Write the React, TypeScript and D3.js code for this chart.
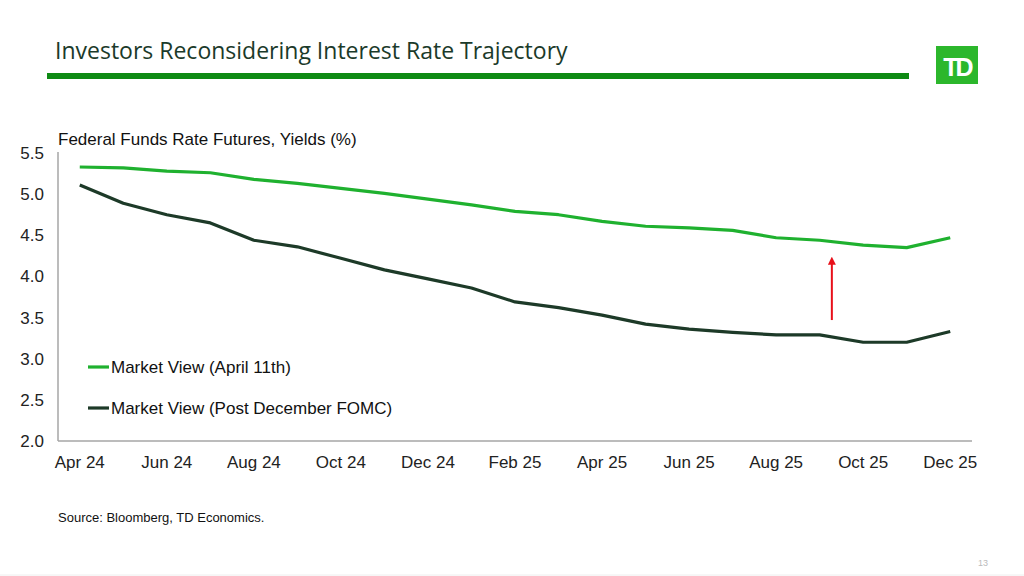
import React from "react";
import * as d3 from "d3";

const months = ["Apr 24","May 24","Jun 24","Jul 24","Aug 24","Sep 24","Oct 24","Nov 24","Dec 24","Jan 25","Feb 25","Mar 25","Apr 25","May 25","Jun 25","Jul 25","Aug 25","Sep 25","Oct 25","Nov 25","Dec 25"];
const aprilView = [5.33,5.32,5.28,5.26,5.18,5.13,5.07,5.01,4.94,4.87,4.79,4.75,4.67,4.61,4.59,4.56,4.47,4.44,4.38,4.35,4.47];
const postFomc = [5.11,4.89,4.75,4.65,4.44,4.36,4.22,4.08,3.97,3.86,3.69,3.62,3.53,3.42,3.36,3.32,3.29,3.29,3.20,3.20,3.33];
const xTickLabels = ["Apr 24","Jun 24","Aug 24","Oct 24","Dec 24","Feb 25","Apr 25","Jun 25","Aug 25","Oct 25","Dec 25"];
const yTicks = [2.0,2.5,3.0,3.5,4.0,4.5,5.0,5.5];
const seriesNames = ["Market View (April 11th)","Market View (Post December FOMC)"];
const arrowX = 17.28; // month index
const arrowFrom = 3.47;
const arrowTo = 4.24;

const GREEN = "#1fb12f";
const DARK = "#1d3a28";

export default function App() {
  const x = d3.scaleLinear().domain([-0.5, months.length - 0.5]).range([58, 972]);
  const y = d3.scaleLinear().domain([2, 5.5]).range([441, 153]);
  const line = d3.line<number>().x((_, i) => x(i)).y((d) => y(d));
  const font = "'Liberation Sans', Arial, sans-serif";
  return (
    <svg width={1024} height={576} style={{ position: "absolute", left: 0, top: 0, background: "#fff" }}>
      <defs>
        <marker id="ah" viewBox="0 0 10 10" refX="5" refY="5" markerWidth="4" markerHeight="4" orient="auto">
          <path d="M0,0 L10,5 L0,10 z" fill="#e8101a" />
        </marker>
      </defs>
      <text x={55} y={59} fontFamily="'Open Sans', sans-serif" fontSize={23} fill="#1b3a2a">Investors Reconsidering Interest Rate Trajectory</text>
      <rect x={47} y={73} width={862} height={6} fill="#0e8a14" />
      <rect x={936} y={46} width={42} height={38} fill="#2cb72c" />
      <text x={957} y={76} textAnchor="middle" fontFamily={font} fontWeight="bold" fontSize={25} fill="#fff" letterSpacing={-3}>TD</text>

      <text x={58} y={145} fontFamily={font} fontSize={17} fill="#111">Federal Funds Rate Futures, Yields (%)</text>

      <line x1={58} x2={58} y1={152} y2={441} stroke="#a6a6a6" strokeWidth={1.5} />
      <line x1={58} x2={972} y1={441} y2={441} stroke="#a6a6a6" strokeWidth={1.5} />
      {yTicks.map((t) => (
        <text key={t} x={44} y={y(t) + 6} textAnchor="end" fontFamily={font} fontSize={17} fill="#222">{t.toFixed(1)}</text>
      ))}
      {xTickLabels.map((l) => (
        <text key={l} x={x(months.indexOf(l))} y={468} textAnchor="middle" fontFamily={font} fontSize={17} fill="#222">{l}</text>
      ))}

      <path d={line(aprilView) || ""} fill="none" stroke={GREEN} strokeWidth={3.2} strokeLinejoin="round" />
      <path d={line(postFomc) || ""} fill="none" stroke={DARK} strokeWidth={3.2} strokeLinejoin="round" />

      <line x1={x(arrowX)} x2={x(arrowX)} y1={y(arrowFrom)} y2={y(arrowTo) + 4} stroke="#e8101a" strokeWidth={2} markerEnd="url(#ah)" />

      {seriesNames.map((n, i) => (
        <g key={n}>
          <line x1={88} x2={109} y1={367 + i * 41} y2={367 + i * 41} stroke={i === 0 ? GREEN : DARK} strokeWidth={3.2} />
          <text x={111} y={373 + i * 41} fontFamily={font} fontSize={17} fill="#111">{n}</text>
        </g>
      ))}

      <text x={58} y={522} fontFamily={font} fontSize={13} fill="#111">Source: Bloomberg, TD Economics.</text>
      <text x={978} y={566} fontFamily={font} fontSize={9} fill="#bbb">13</text>
      <line x1={0} x2={1024} y1={575} y2={575} stroke="#eee" strokeWidth={1} />
    </svg>
  );
}
